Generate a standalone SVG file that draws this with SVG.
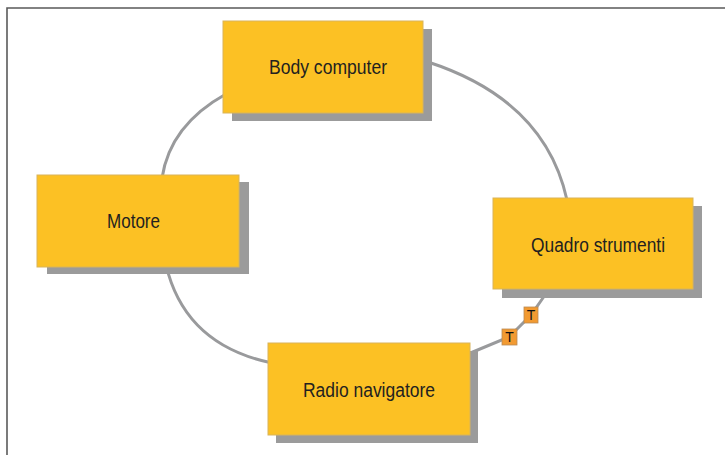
<svg xmlns="http://www.w3.org/2000/svg" width="725" height="455" viewBox="0 0 725 455">
<defs>
<style>
.shadow{fill:#9b9b9b;}
.box{fill:#fcc124;stroke:#d9b45a;stroke-width:1;}
.lbl{font-family:"Liberation Sans Narrow","Liberation Sans",Arial,sans-serif;font-size:20px;fill:#231f20;}
.conn{fill:none;stroke:#999a9c;stroke-width:3;}
.tbox{fill:#f29a31;stroke:#b98a55;stroke-width:0.8;}
.tl{font-family:"Liberation Sans",Arial,sans-serif;font-size:14px;fill:#111;text-anchor:middle;}
.frame{stroke:#5a5a5a;stroke-width:1.6;fill:none;}
</style>
</defs>
<rect width="725" height="455" fill="#ffffff"/>
<path class="frame" d="M7,455 V8 H725"/>
<g id="connectors">
<path class="conn" d="M428,62 Q545,100 567,200"/>
<path class="conn" d="M226,94 Q170,125 162,178"/>
<path class="conn" d="M166,265 Q185,345 272,363"/>
<path class="conn" d="M545,295 L531,315 L509,337 L468,354"/>
</g>
<g id="node-body-computer">
<rect class="shadow" x="232" y="29" width="200" height="92"/>
<rect class="box" x="223" y="21" width="200" height="92"/>
<text class="lbl" x="269" y="74" textLength="118" lengthAdjust="spacingAndGlyphs">Body computer</text>
</g>
<g id="node-motore">
<rect class="shadow" x="47" y="182" width="202" height="92"/>
<rect class="box" x="37" y="175" width="202" height="92"/>
<text class="lbl" x="107" y="228" textLength="53" lengthAdjust="spacingAndGlyphs">Motore</text>
</g>
<g id="node-quadro-strumenti">
<rect class="shadow" x="502" y="206" width="200" height="92"/>
<rect class="box" x="493" y="198" width="200" height="91"/>
<text class="lbl" x="531" y="252" textLength="134" lengthAdjust="spacingAndGlyphs">Quadro strumenti</text>
</g>
<g id="node-radio-navigatore">
<rect class="shadow" x="276" y="351" width="202" height="92"/>
<rect class="box" x="268" y="343" width="202" height="92"/>
<text class="lbl" x="303" y="397" textLength="132" lengthAdjust="spacingAndGlyphs">Radio navigatore</text>
</g>
<g id="terminator-1">
<rect class="tbox" x="524" y="307" width="14" height="16"/>
<text class="tl" x="531" y="320">T</text>
</g>
<g id="terminator-2">
<rect class="tbox" x="502" y="329" width="15" height="16"/>
<text class="tl" x="509.5" y="342">T</text>
</g>
</svg>
